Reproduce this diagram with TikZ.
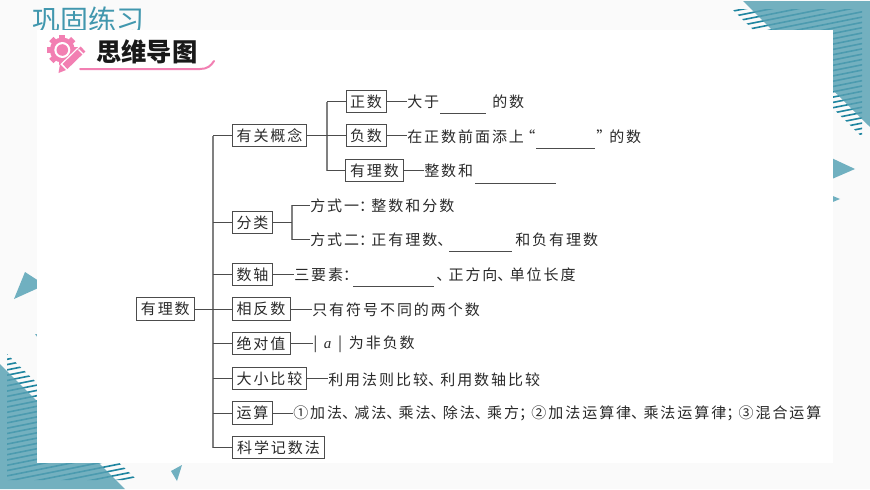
\documentclass[tikz,border=0pt]{standalone}
\usepackage{fontspec}
\newfontfamily\cjk[LetterSpace=13]{Noto Sans CJK SC}
\newfontfamily\cjkplain{Noto Sans CJK SC}
\newfontfamily\ltn{Liberation Serif}
\newcommand{\pun}[1]{\hbox to 0.82em{#1\hss}}
\definecolor{teal1}{HTML}{56A0B3}
\definecolor{teal2}{HTML}{1F85A0}
\definecolor{teal3}{HTML}{70B0C0}
\definecolor{pinkk}{HTML}{F27FB2}
\definecolor{inkk}{HTML}{2A2A2A}
\tikzset{
  lbox/.style={draw=black!70,line width=0.6pt,fill=white,text=inkk,inner sep=0pt,minimum height=17pt,font=\cjk\fontsize{11.25pt}{13pt}\selectfont},
  rowtxt/.style={anchor=west,inner sep=0pt,yshift=-0.6pt,text=inkk,font=\cjk\fontsize{11.25pt}{13pt}\selectfont},
  link/.style={draw=black!70,line width=0.6pt},
  trunk/.style={draw=black!50,line width=1pt},
  blank/.style={draw=black!70,line width=0.6pt},
  stripe/.style={draw=teal2,line width=1.2pt},
}
\begin{document}
\begin{tikzpicture}[x=0.75pt,y=-0.75pt]
\useasboundingbox (0,0) rectangle (870,489);
\fill[black!2] (0,0) rectangle (870,489);
% title
\node[anchor=west,inner sep=0pt,text=teal2!85,font=\cjkplain\fontsize{21pt}{24pt}\selectfont] (title) at (32,20) {巩固练习};
% top right corner
\begin{scope}
\clip (732,9) -- (862,9) -- (862,137) -- cycle;
\foreach \k in {0,...,34} {
  \pgfmathsetmacro{\yy}{-20+5.3*\k}
  \draw[stripe] (720,\yy+28.4) -- (865,\yy-0.6);
}
\end{scope}
\fill[teal1,opacity=0.82] (743,1) -- (870,1) -- (870,127) -- cycle;
% bottom left corner
\begin{scope}
\clip (7,354) -- (137,480) -- (7,480) -- cycle;
\foreach \k in {0,...,34} {
  \pgfmathsetmacro{\yy}{354+5.3*\k}
  \draw[stripe] (4,\yy+0.6) -- (150,\yy-28.6);
}
\end{scope}
\fill[teal1,opacity=0.82] (0,364) -- (125,489) -- (0,489) -- cycle;
% small triangles
\fill[teal3] (825,155) -- (855,169) -- (825,182) -- cycle;
\fill[teal3] (828,194) -- (840,199) -- (828,204) -- cycle;
\fill[teal3] (25,272) -- (14,299) -- (45,285) -- cycle;
\fill[teal3] (182,465) -- (171,471) -- (177,481) -- cycle;
\fill[teal3] (35,334) -- (38,334) -- (38,338) -- cycle;
% white panel
\fill[white] (37,30) rectangle (833,462.5);
% icon
\fill[pinkk] (62.3,50) circle (12.5);
\foreach \a in {0,45,...,315} {
  \fill[pinkk,rotate around={\a:(62.3,50)}] (59.3,34.5) rectangle (65.3,40);
}
\fill[white] (62.3,50) circle (8);
\fill[pinkk] (62.3,50) circle (5.8);
\draw[white,line width=8pt] (62,70) -- (86,47);
\draw[pinkk,line width=5.2pt] (65,66.5) -- (83,49);
\draw[white,line width=1pt] (78.5,49.5) -- (83.5,54.5);
\fill[pinkk] (58.5,73) -- (60,64) -- (66,70) -- cycle;
% heading
\node[anchor=west,inner sep=0pt,text=black!90,font=\cjkplain\bfseries\fontsize{19pt}{22pt}\selectfont] (head) at (96,52) {思维导图};
\draw[pinkk,line width=1.5pt,line cap=round] (80,69) -- (200,69) .. controls (207,69) and (211,66) .. (214,61);
% boxes
\node[lbox,minimum width=43pt] (root) at (165.3,309) {有理数};
\node[lbox,minimum width=56pt] (b1) at (269.5,135.5) {有关概念};
\node[lbox,minimum width=30pt] (c1) at (366,101.5) {正数};
\node[lbox,minimum width=30pt] (c2) at (366,135.5) {负数};
\node[lbox,minimum width=43pt] (c3) at (374.5,170.5) {有理数};
\node[lbox,minimum width=30.5pt] (b2) at (252.5,222.5) {分类};
\node[lbox,minimum width=30.5pt] (b3) at (252.5,274.5) {数轴};
\node[lbox,minimum width=43.5pt] (b4) at (261,309) {相反数};
\node[lbox,minimum width=43.5pt] (b5) at (261,343.5) {绝对值};
\node[lbox,minimum width=56pt] (b6) at (269.5,378.5) {大小比较};
\node[lbox,minimum width=30.5pt] (b7) at (252.5,413) {运算};
\node[lbox,minimum width=69.5pt] (b8) at (278.5,447.5) {科学记数法};
% trunk coordinates
\coordinate (tr) at (213,300);
\coordinate (trA) at (327,130);
\coordinate (trB) at (292,220);
% row texts
\node[rowtxt] (t1) at (407,101) {大于};
\node[rowtxt] (t1b) at (492,101) {的数};
\node[rowtxt] (t2) at (407,135.5) {在正数前面添上};
\node[rowtxt,font=\cjkplain\fontsize{11.25pt}{13pt}\selectfont] (t2q) at (520,135.5) {“};
\node[rowtxt,font=\cjkplain\fontsize{11.25pt}{13pt}\selectfont] (t2r) at (596,135.5) {”};
\node[rowtxt] (t2b) at (609,135.5) {的数};
\node[rowtxt] (t3) at (424,170.5) {整数和};
\node[rowtxt] (t4) at (310,204.5) {方式一\pun{：}整数和分数};
\node[rowtxt] (t5) at (310,239) {方式二\pun{：}正有理数\pun{、}};
\node[rowtxt] (t5b) at (515,239) {和负有理数};
\node[rowtxt] (t6) at (294,274) {三要素\pun{：}};
\node[rowtxt] (t6b) at (436,274) {\pun{、}正方向\pun{、}单位长度};
\node[rowtxt] (t7) at (312,309) {只有符号不同的两个数};
\node[rowtxt] (t8) at (313,343.5) {|\hspace{5pt}{\ltn\itshape a}\hspace{5pt}|\hspace{5pt}为非负数};
\node[rowtxt] (t9) at (328,378.5) {利用法则比较\pun{、}利用数轴比较};
\node[rowtxt] (t10) at (293,413) {①加法\pun{、}减法\pun{、}乘法\pun{、}除法\pun{、}乘方\pun{；}②加法运算律\pun{、}乘法运算律\pun{；}③混合运算};
% blanks
\draw[blank] (440,113) -- (486,113);
\draw[blank] (536,148) -- (595,148);
\draw[blank] (475,183) -- (556,183);
\draw[blank] (449,251) -- (512,251);
\draw[blank] (353,286) -- (434,286);
% main trunk
\draw[trunk] (b1.west -| tr) -- (b8.west -| tr);
\draw[link] (root.east) -- (b4.west);
\foreach \n in {b1,b2,b3,b5,b6,b7,b8} { \draw[link] (\n.west -| tr) -- (\n.west); }
% sub trunk A
\draw[trunk] (c1.west -| trA) -- (c3.west -| trA);
\draw[link] (b1.east) -- (c2.west);
\draw[link] (c1.west -| trA) -- (c1.west);
\draw[link] (c3.west -| trA) -- (c3.west);
% sub trunk B
\draw[trunk] (t4.west -| trB) -- (t5.west -| trB);
\draw[link] (b2.east) -- (b2.east -| trB);
\draw[link] (t4.west -| trB) -- (t4.west);
\draw[link] (t5.west -| trB) -- (t5.west);
% row connectors
\draw[link] (c1.east) -- (c1.east -| t1.west);
\draw[link] (c2.east) -- (c2.east -| t2.west);
\draw[link] (c3.east) -- (c3.east -| t3.west);
\draw[link] (b3.east) -- (b3.east -| t6.west);
\draw[link] (b4.east) -- (b4.east -| t7.west);
\draw[link] (b5.east) -- (b5.east -| t8.west);
\draw[link] (b6.east) -- (b6.east -| t9.west);
\draw[link] (b7.east) -- (b7.east -| t10.west);
\end{tikzpicture}
\end{document}
